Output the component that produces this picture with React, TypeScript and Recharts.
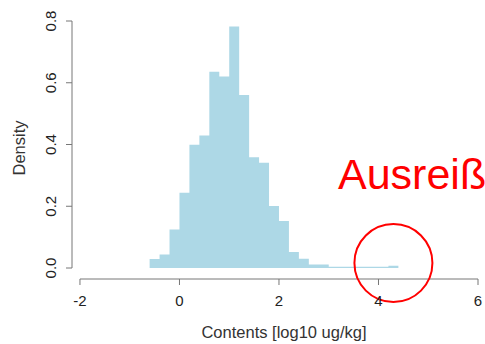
import {
  ComposedChart,
  Area,
  XAxis,
  YAxis,
  ReferenceLine,
  ReferenceDot,
} from 'recharts';

// histogram bins (left edges, width 0.2) and their densities
const binEdges = [
  -0.6, -0.4, -0.2, 0.0, 0.2, 0.4, 0.6, 0.8, 1.0, 1.2, 1.4, 1.6, 1.8, 2.0,
  2.2, 2.4, 2.6, 2.8, 3.0, 3.2, 3.4, 3.6, 3.8, 4.0, 4.2, 4.4,
];
const densities = [
  0.029, 0.044, 0.125, 0.244, 0.399, 0.429, 0.636, 0.62, 0.782, 0.56, 0.359,
  0.341, 0.201, 0.152, 0.052, 0.03, 0.011, 0.011, 0.004, 0.004, 0.004, 0.004,
  0.004, 0.004, 0.007, 0,
];

const xTicks = [-2, 0, 2, 4, 6];
const yTicks = [0, 0.2, 0.4, 0.6, 0.8];

const xLabel = 'Contents [log10 ug/kg]';
const yLabel = 'Density';
const outlierLabel = 'Ausreiß';
const outlierX = 4.3;
const outlierY = 0.016;

// R style detached axes: the plot box is a bit larger than the ticks
const X_MIN = -2.16;
const Y_MIN = -0.0356;

const FONT = '"Liberation Sans", Arial, sans-serif';
const AXIS = '#777';
const TEXT = '#222';

const chartData = binEdges.map((x, i) => ({ x, density: densities[i] }));

const YTick = (props: any) => {
  const { y, payload } = props;
  const bx = 56;
  return (
    <text
      x={bx}
      y={y}
      transform={`rotate(-90, ${bx}, ${y})`}
      textAnchor="middle"
      fontSize={15}
      fill={TEXT}
      fontFamily={FONT}
    >
      {Number(payload.value).toFixed(1)}
    </text>
  );
};

const YTitle = (props: any) => {
  const { viewBox } = props;
  const cy = viewBox.y + viewBox.height / 2 - 2;
  const bx = 25;
  return (
    <text
      x={bx}
      y={cy}
      transform={`rotate(-90, ${bx}, ${cy})`}
      textAnchor="middle"
      fontSize={16.5}
      fill="#333"
      fontFamily={FONT}
    >
      {yLabel}
    </text>
  );
};

const XTitle = (props: any) => {
  const { viewBox } = props;
  return (
    <text
      x={viewBox.x + viewBox.width / 2 + 9}
      y={338}
      textAnchor="middle"
      fontSize={16.5}
      fill="#333"
      fontFamily={FONT}
    >
      {xLabel}
    </text>
  );
};

export default function App() {
  return (
    <div
      style={{
        position: 'absolute',
        left: 0,
        top: 0,
        width: 485,
        height: 344,
        background: '#fff',
        fontFamily: FONT,
      }}
    >
      <ComposedChart
        width={485}
        height={344}
        data={chartData}
        margin={{ top: 21, right: 7, left: 0, bottom: 0 }}
      >
        <XAxis
          dataKey="x"
          type="number"
          domain={[X_MIN, 6]}
          ticks={xTicks}
          interval={0}
          allowDataOverflow
          axisLine={false}
          tickSize={6}
          tickMargin={10}
          tickLine={{ stroke: AXIS }}
          tick={{ fontSize: 15, fill: TEXT, fontFamily: FONT }}
          height={65}
          label={<XTitle />}
        />
        <YAxis
          type="number"
          domain={[Y_MIN, 0.8]}
          ticks={yTicks}
          interval={0}
          allowDataOverflow
          axisLine={false}
          tickSize={6}
          tickLine={{ stroke: AXIS }}
          tick={<YTick />}
          width={72}
          label={<YTitle />}
        />
        <Area
          type="stepAfter"
          dataKey="density"
          baseValue={0}
          stroke="none"
          fill="#add8e6"
          fillOpacity={1}
          isAnimationActive={false}
          dot={false}
          activeDot={false}
        />
        <ReferenceLine
          segment={[
            { x: X_MIN, y: 0 },
            { x: X_MIN, y: 0.8 },
          ]}
          stroke={AXIS}
          strokeWidth={1}
          ifOverflow="visible"
        />
        <ReferenceLine
          segment={[
            { x: -2, y: Y_MIN },
            { x: 6, y: Y_MIN },
          ]}
          stroke={AXIS}
          strokeWidth={1}
          ifOverflow="visible"
        />
        <ReferenceDot
          x={outlierX}
          y={outlierY}
          r={39}
          fill="none"
          stroke="#ff0000"
          strokeWidth={2}
          ifOverflow="visible"
        />
      </ComposedChart>
      <div
        style={{
          position: 'absolute',
          left: 338,
          top: 153,
          fontSize: 43,
          lineHeight: '43px',
          color: '#ff0000',
          whiteSpace: 'nowrap',
        }}
      >
        {outlierLabel}
      </div>
    </div>
  );
}
